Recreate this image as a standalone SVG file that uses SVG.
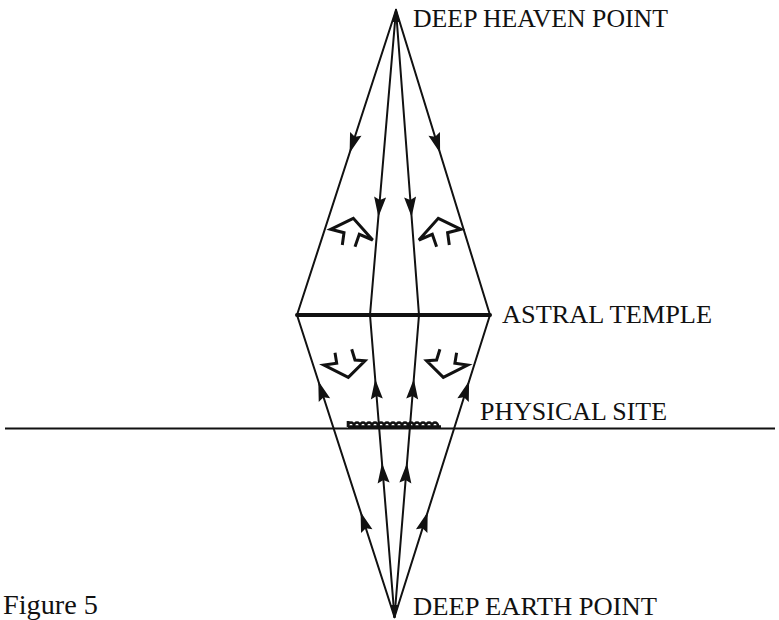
<svg xmlns="http://www.w3.org/2000/svg" width="779" height="620" viewBox="0 0 779 620">
<style>
.lbl{font-family:"Liberation Serif","Times New Roman",serif;font-size:25px;fill:#111}
.ln{stroke:#111;stroke-width:2;fill:none;stroke-linecap:round}
.hol{stroke:#111;stroke-width:3;fill:none;stroke-linejoin:miter;stroke-linecap:butt}
.ah{fill:#111}
</style>
<defs>
<path id="ah" class="ah" d="M0,0 L6,20 L0,17 L-6,20 Z"/>
</defs>
<rect width="779" height="620" fill="#fff"/>
<g id="deep-heaven-point">
<text class="lbl" x="413" y="27" textLength="255" lengthAdjust="spacingAndGlyphs">DEEP HEAVEN POINT</text>
</g>
<g id="astral-temple">
<line x1="297" y1="315" x2="490" y2="315" stroke="#111" stroke-width="4" stroke-linecap="round"/>
<text class="lbl" x="502" y="323" textLength="210" lengthAdjust="spacingAndGlyphs">ASTRAL TEMPLE</text>
</g>
<g id="physical-site">
<line x1="5" y1="428.5" x2="775" y2="428.5" stroke="#111" stroke-width="2"/>
<path d="M348,427 L441,427" stroke="#111" stroke-width="3.5" fill="none"/>
<path d="M348,427 V421 M348,426 a3,3.5 0 0 1 6,0 a3,3.5 0 0 1 6,0 a3,3.5 0 0 1 6,0 a3,3.5 0 0 1 6,0 a3,3.5 0 0 1 6,0 a3,3.5 0 0 1 6,0 a3,3.5 0 0 1 6,0 a3,3.5 0 0 1 6,0 a3,3.5 0 0 1 6,0 a3,3.5 0 0 1 6,0 a3,3.5 0 0 1 6,0 a3,3.5 0 0 1 6,0 a3,3.5 0 0 1 6,0 a3,3.5 0 0 1 6,0 a3,3.5 0 0 1 6,0" stroke="#111" stroke-width="2.6" fill="none"/>
<text class="lbl" x="480" y="420" textLength="187" lengthAdjust="spacingAndGlyphs">PHYSICAL SITE</text>
</g>
<g id="deep-earth-point">
<text class="lbl" x="413" y="615" font-size="24" textLength="244" lengthAdjust="spacingAndGlyphs">DEEP EARTH POINT</text>
</g>
<g id="figure-caption">
<text x="3" y="614" font-family="Liberation Serif, 'Times New Roman', serif" font-size="28" fill="#111" textLength="95" lengthAdjust="spacingAndGlyphs">Figure 5</text>
</g>
<g id="connectors">
<line class="ln" x1="396" y1="10" x2="297" y2="315"/>
<line class="ln" x1="396" y1="10" x2="370" y2="315"/>
<line class="ln" x1="396" y1="10" x2="419" y2="315"/>
<line class="ln" x1="396" y1="10" x2="490" y2="315"/>
<line class="ln" x1="394.5" y1="617" x2="297" y2="315"/>
<line class="ln" x1="394.5" y1="617" x2="370" y2="315"/>
<line class="ln" x1="394.5" y1="617" x2="419" y2="315"/>
<line class="ln" x1="394.5" y1="617" x2="490" y2="315"/>
<path class="ah" d="M396,8 L392,22 L400,22 Z"/>
<path class="ah" d="M394.5,619 L390.5,605 L398.5,605 Z"/>
<use href="#ah" transform="translate(349.6,153) rotate(-162)"/>
<use href="#ah" transform="translate(378.4,217) rotate(-175.1)"/>
<use href="#ah" transform="translate(411.6,217) rotate(175.7)"/>
<use href="#ah" transform="translate(440.1,153) rotate(162.9)"/>
<use href="#ah" transform="translate(318.3,381) rotate(-17.9)"/>
<use href="#ah" transform="translate(375.2,379) rotate(-4.64)"/>
<use href="#ah" transform="translate(413.8,379) rotate(4.64)"/>
<use href="#ah" transform="translate(469.1,381) rotate(17.55)"/>
<use href="#ah" transform="translate(360.6,512) rotate(-17.9)"/>
<use href="#ah" transform="translate(382,463) rotate(-4.64)"/>
<use href="#ah" transform="translate(407,463) rotate(4.64)"/>
<use href="#ah" transform="translate(427.7,512) rotate(17.55)"/>
</g>
<g id="flow-arrows">
<polyline class="hol" points="342.3,245 344,232.7 330.7,229.3 353.3,218.3 372.7,240 359.3,234.3 355,246.7"/>
<polyline class="hol" points="449.3,245 447.6,232.7 460.9,229.3 438.3,218.3 418.9,240 432.3,234.3 436.6,246.7"/>
<polyline class="hol" points="335,352.7 336.7,363.3 324,365 348.3,377.3 365,360.7 355,360 351.7,349.3"/>
<polyline class="hol" points="456.6,352.7 454.9,363.3 467.6,365 443.3,377.3 426.6,360.7 436.6,360 439.9,349.3"/>
</g>
</svg>
